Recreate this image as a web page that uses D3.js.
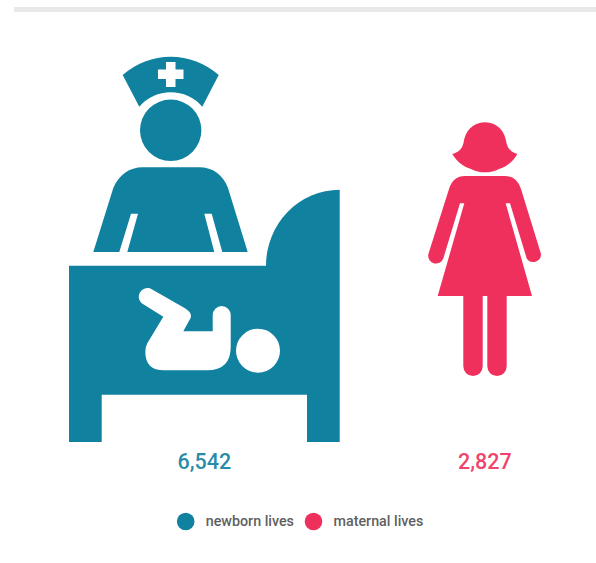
<!DOCTYPE html>
<html>
<head>
<meta charset="utf-8">
<script src="https://cdn.jsdelivr.net/npm/d3@7/dist/d3.min.js"></script>
<style>
  html, body { margin: 0; padding: 0; background: #fff; }
  svg { display: block; }
  text { font-family: Roboto, sans-serif; }
</style>
</head>
<body>
<svg id="chart" width="596" height="563"></svg>
<script>
// Lives saved, by group
const categories = ["newborn lives", "maternal lives"];
const values = [6542, 2827];
const colors = ["#10819f", "#f0305c"];

// Pictograms, drawn around their own centre column
const nurseIcon = [
  // cap with cross
  "M122.7 75 A72 72 0 0 1 218.7 75 L202.3 106.7 A41.6 41.6 0 0 0 139.3 106.7 Z",
  "M166 62 H175.5 V69.5 H183.5 V79 H175.5 V87 H166 V79 H158 V69.5 H166 Z",
  // head
  "M140 130.3 A30.7 30.7 0 1 1 201.4 130.3 A30.7 30.7 0 1 1 140 130.3 Z",
  // torso with arm gaps
  "M93.3 252 L113.3 188 C119 175 129 167.3 143 167.3 H199 C213 167.3 223 175 228 188 L247.7 252 Z",
  "M131 213.7 H138 L127.3 252 H119.3 Z",
  "M204.3 213.7 H211.7 L222.3 252 H214.3 Z",
  // bed with headboard
  "M69 265.7 H266 A74 76 0 0 1 339.7 189.7 V442 H307 V394.7 H101.7 V442 H69 Z",
  // baby
  "M150 288.3 L185 308.3 Q194 314 189.5 320 L183.3 331.3 H212.7 V315 A9 9 0 0 1 230.7 315 V347 Q230.7 370.3 207 370.3 H164 Q145.3 370.3 145.3 351.7 Q145.3 347 147.3 343.3 L163.3 316.7 L141.7 303.3 A8.8 8.8 0 0 1 150 288.3 Z",
  "M236 350.7 A22 22 0 1 1 280 350.7 A22 22 0 1 1 236 350.7 Z"
].join(" ");
const nurseCentre = 204.4;

const womanIcon = [
  // hair and face
  "M485 122.3 C498 122.3 505 132 506.5 143 C508 149 511 152 517.3 154 C513 162 506 167 499 169 C495 171.5 490 172.3 485 172.3 C480 172.3 475 171.5 471 169 C464 167 457 162 452.3 154 C459 152 462 149 463.5 143 C465 132 472 122.3 485 122.3 Z",
  // dress and arms
  "M465 176 H505 Q517 176 521 189 L541 254 A7.8 7.8 0 0 1 526.7 258.5 L510 203.3 H505.7 L532 296 H506.7 V366.3 A9.7 9.7 0 0 1 487.3 366.3 V296 H482.7 V366.3 A9.7 9.7 0 0 1 463.3 366.3 V296 H437.7 L464.3 203.3 H460 L443.3 258.5 A7.8 7.8 0 0 1 428.4 254 L449 189 Q453 176 465 176 Z"
].join(" ");
const womanCentre = 484.8;

const icons = [
  { path: nurseIcon, centre: nurseCentre },
  { path: womanIcon, centre: womanCentre }
];

const svg = d3.select("#chart");

const color = d3.scaleOrdinal().domain(categories).range(colors);
const x = d3.scalePoint().domain(categories).range([204.4, 484.8]);
const legendX = d3.scalePoint().domain(categories).range([185.7, 313.5]);
const formatValue = d3.format(",");

// Rule across the top of the card
svg.append("rect")
  .attr("x", 14).attr("y", 7)
  .attr("width", 582).attr("height", 5)
  .attr("fill", "#e8e8e8");

// Pictograms
svg.selectAll("path.icon")
  .data(categories)
  .join("path")
  .attr("class", "icon")
  .attr("d", (d, i) => icons[i].path)
  .attr("fill-rule", "evenodd")
  .attr("fill", d => color(d))
  .attr("transform", (d, i) => `translate(${x(d) - icons[i].centre},0)`);

// Value labels
svg.selectAll("text.value")
  .data(categories)
  .join("text")
  .attr("class", "value")
  .attr("x", d => x(d))
  .attr("y", 468.5)
  .attr("text-anchor", "middle")
  .attr("font-size", 21.5)
  .attr("font-weight", 500)
  .attr("fill", d => color(d))
  .attr("fill-opacity", 0.92)
  .text((d, i) => formatValue(values[i]));

// Legend
const legend = svg.selectAll("g.legend")
  .data(categories)
  .join("g")
  .attr("class", "legend")
  .attr("transform", d => `translate(${legendX(d)},521.5)`);

legend.append("circle")
  .attr("r", 8.8)
  .attr("fill", d => color(d));

legend.append("text")
  .attr("x", 20)
  .attr("y", 4.6)
  .attr("font-size", 14.3)
  .attr("font-weight", 500)
  .attr("fill", "#5f5f5f")
  .text(d => d);
</script>
</body>
</html>
